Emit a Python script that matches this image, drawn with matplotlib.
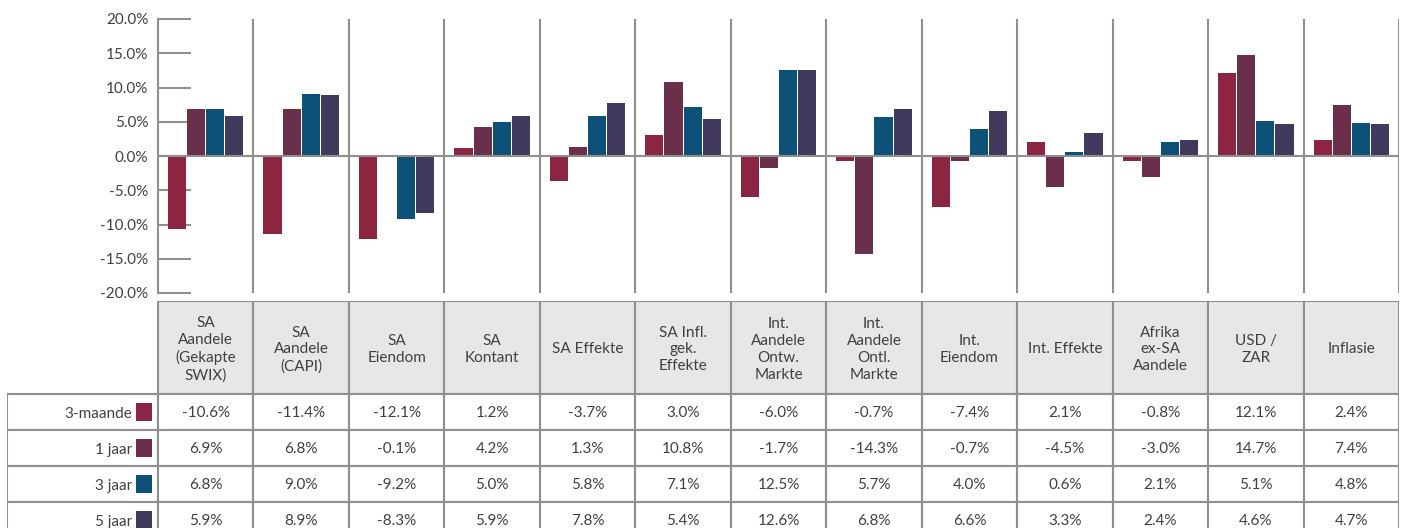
import matplotlib.pyplot as plt
from matplotlib.patches import Rectangle

plt.rcParams['font.family'] = ['Lato', 'DejaVu Sans']

categories = ["SA\nAandele\n(Gekapte\nSWIX)", "SA\nAandele\n(CAPI)", "SA\nEiendom", "SA\nKontant",
              "SA Effekte", "SA Infl.\ngek.\nEffekte", "Int.\nAandele\nOntw.\nMarkte",
              "Int.\nAandele\nOntl.\nMarkte", "Int.\nEiendom", "Int. Effekte",
              "Afrika\nex-SA\nAandele", "USD /\nZAR", "Inflasie"]
series_names = ["3-maande", "1 jaar", "3 jaar", "5 jaar"]
three_month = [-10.6, -11.4, -12.1, 1.2, -3.7, 3.0, -6.0, -0.7, -7.4, 2.1, -0.8, 12.1, 2.4]
one_year = [6.9, 6.8, -0.1, 4.2, 1.3, 10.8, -1.7, -14.3, -0.7, -4.5, -3.0, 14.7, 7.4]
three_year = [6.8, 9.0, -9.2, 5.0, 5.8, 7.1, 12.5, 5.7, 4.0, 0.6, 2.1, 5.1, 4.8]
five_year = [5.9, 8.9, -8.3, 5.9, 7.8, 5.4, 12.6, 6.8, 6.6, 3.3, 2.4, 4.6, 4.7]
yticks = [-20, -15, -10, -5, 0, 5, 10, 15, 20]

series = [three_month, one_year, three_year, five_year]
colors = ["#8b2541", "#692f4b", "#0e5178", "#413a5c"]
line_col = "#8f8f8f"
text_col = "#404040"

W, H = 1404, 528
fig = plt.figure(figsize=(W / 100, H / 100), dpi=100)

# bar chart area
ax = fig.add_axes([158 / W, 1 - 293 / H, (1399 - 158) / W, (293 - 19) / H])
n = len(categories)
for k, vals in enumerate(series):
    xs = [i + (k - 1.5) * 0.2 for i in range(n)]
    ax.bar(xs, vals, width=0.19, color=colors[k], zorder=2)
ax.set_xlim(-0.5, n - 0.5)
ax.set_ylim(-20, 20)
ax.axhline(0, color=line_col, lw=1.5, zorder=3)
for i in range(n):
    ax.axvline(i + 0.5, color=line_col, lw=1.5, zorder=1)
for s in ["top", "right", "bottom"]:
    ax.spines[s].set_visible(False)
ax.spines["left"].set_color(line_col)
ax.spines["left"].set_linewidth(1.5)
ax.set_xticks([])
ax.set_yticks(yticks)
ax.set_yticklabels([f"{v:.1f}%" for v in yticks])
ax.tick_params(axis="y", direction="in", length=24, width=1.5, color=line_col,
               pad=7, labelsize=11, labelcolor=text_col)

# table below
label_w = (158 - 7) / 95.45
tx = fig.add_axes([7 / W, 0, (1399 - 7) / W, (H - 301) / H])
tx.set_xlim(-0.5 - label_w, n - 0.5)
tx.set_ylim(H, 301)
tx.axis("off")

head_top, head_h, row_h = 301, 93, 36
for i, cat in enumerate(categories):
    tx.add_patch(Rectangle((i - 0.5, head_top), 1, head_h, facecolor="#e6e7e8",
                           edgecolor=line_col, lw=1.5))
    tx.text(i, head_top + head_h / 2 + 2, cat, ha="center", va="center", fontsize=11,
            color=text_col, linespacing=1.25)

for r, (name, vals) in enumerate(zip(series_names, series)):
    y0 = head_top + head_h + r * row_h
    tx.add_patch(Rectangle((-0.5 - label_w, y0), label_w, row_h, facecolor="white",
                           edgecolor=line_col, lw=1.5))
    sw = 16 / 95.45
    tx.add_patch(Rectangle((-0.5 - 6 / 95.45 - sw, y0 + 9), sw, 18, facecolor=colors[r],
                           edgecolor="none"))
    tx.text(-0.5 - 26 / 95.45, y0 + row_h / 2 + 2, name, ha="right", va="center",
            fontsize=11, color=text_col)
    for i, v in enumerate(vals):
        tx.add_patch(Rectangle((i - 0.5, y0), 1, row_h, facecolor="white",
                               edgecolor=line_col, lw=1.5))
        tx.text(i, y0 + row_h / 2 + 1, f"{v:.1f}%", ha="center", va="center",
                fontsize=11, color=text_col)

fig.savefig("out.png", dpi=100)
